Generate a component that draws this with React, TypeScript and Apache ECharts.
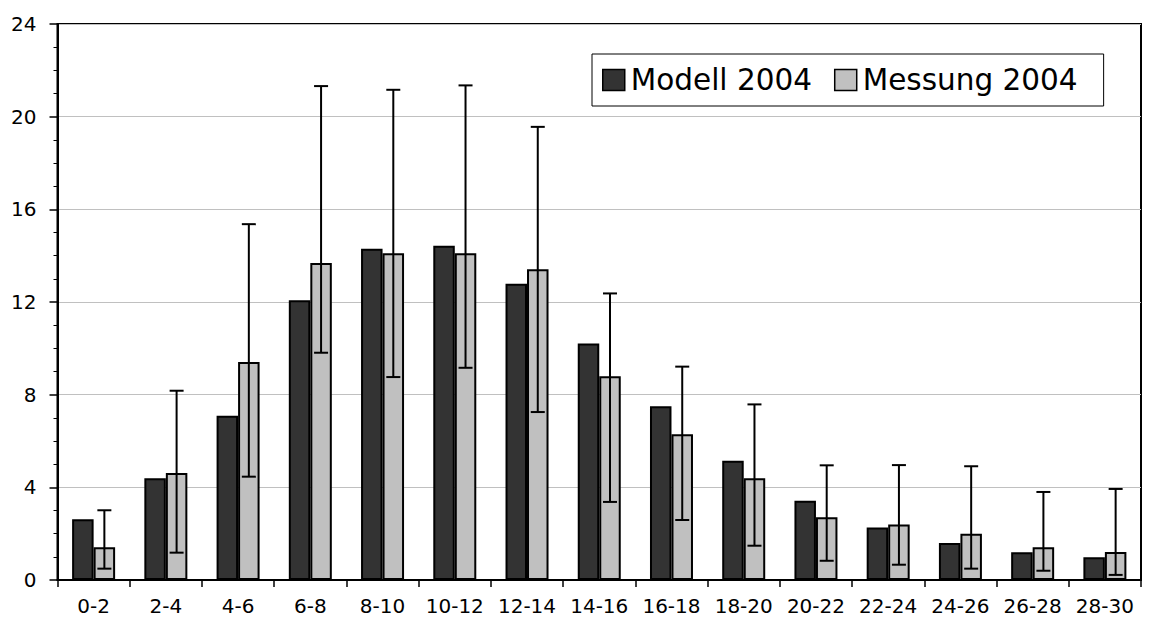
import React, { useEffect, useRef } from "react";
import * as echarts from "echarts";

const categories = ["0-2", "2-4", "4-6", "6-8", "8-10", "10-12", "12-14", "14-16", "16-18", "18-20", "20-22", "22-24", "24-26", "26-28", "28-30"];
const modell2004 = [2.62, 4.39, 7.09, 12.08, 14.3, 14.43, 12.79, 10.21, 7.5, 5.15, 3.42, 2.27, 1.6, 1.2, 0.98];
const messung2004 = [1.41, 4.62, 9.41, 13.68, 14.1, 14.1, 13.41, 8.8, 6.29, 4.39, 2.71, 2.4, 2.0, 1.41, 1.21];
const errorLow = [0.49, 1.18, 4.46, 9.81, 8.76, 9.16, 7.25, 3.37, 2.59, 1.48, 0.83, 0.66, 0.49, 0.4, 0.22];
const errorHigh = [3.01, 8.17, 15.36, 21.32, 21.16, 21.35, 19.56, 12.37, 9.21, 7.58, 4.95, 4.96, 4.91, 3.8, 3.93];
const yTicks = [0, 4, 8, 12, 16, 20, 24];

const FONT = "DejaVu Sans";
const BAR_WIDTH = 21.5;
const CAP_HALF = 7;

export default function App() {
  const ref = useRef<HTMLDivElement>(null);
  useEffect(() => {
    if (!ref.current) return;
    const chart = echarts.init(ref.current, undefined, { renderer: "svg" });
    const errData = categories.map((_, i) => [i, errorLow[i], errorHigh[i]]);
    chart.setOption({
      animation: false,
      backgroundColor: "#ffffff",
      textStyle: { fontFamily: FONT },
      grid: {
        left: 57.5,
        right: 8,
        top: 24,
        bottom: 44,
        show: true,
        borderColor: "#000",
        borderWidth: 2,
        backgroundColor: "transparent",
      },
      legend: {
        data: ["Modell 2004", "Messung 2004"],
        left: 592,
        top: 54,
        orient: "horizontal",
        backgroundColor: "#fff",
        borderColor: "#000",
        borderWidth: 1,
        padding: [11, 26, 11, 10],
        itemWidth: 22,
        itemHeight: 21,
        itemGap: 22,
        icon: "rect",
        selectedMode: false,
        textStyle: { fontFamily: FONT, fontSize: 29.5, color: "#000", padding: [0, 0, 0, 1] },
        itemStyle: { borderColor: "#000", borderWidth: 1.5 },
      },
      xAxis: {
        type: "category",
        data: categories,
        boundaryGap: true,
        axisLine: { show: true, lineStyle: { color: "#000", width: 2 } },
        axisTick: { show: true, length: 7, lineStyle: { color: "#000", width: 1.5 } },
        axisLabel: { fontFamily: FONT, fontSize: 20, color: "#000", margin: 16, interval: 0 },
        splitLine: { show: false },
      },
      yAxis: {
        type: "value",
        min: yTicks[0],
        max: yTicks[yTicks.length - 1],
        interval: 4,
        axisLine: { show: true, lineStyle: { color: "#000", width: 2 } },
        axisTick: { show: true, length: 8, lineStyle: { color: "#000", width: 1.5 } },
        minorTick: { show: true, splitNumber: 4, length: 4, lineStyle: { color: "#000", width: 1 } },
        axisLabel: { fontFamily: FONT, fontSize: 20, color: "#000", margin: 21 },
        splitLine: { show: true, lineStyle: { color: "#c0c0c0", width: 1 } },
      },
      series: [
        {
          name: "Modell 2004",
          type: "bar",
          data: modell2004,
          barWidth: BAR_WIDTH,
          barGap: "0%",
          itemStyle: { color: "#333333", borderColor: "#000", borderWidth: 2 },
        },
        {
          name: "Messung 2004",
          type: "bar",
          data: messung2004,
          barWidth: BAR_WIDTH,
          barGap: "0%",
          itemStyle: { color: "#c0c0c0", borderColor: "#000", borderWidth: 2 },
        },
        {
          name: "Fehler",
          type: "custom",
          data: errData,
          encode: { x: 0, y: [1, 2] },
          z: 10,
          renderItem: (params: any, api: any) => {
            const idx = api.value(0);
            const lo = api.coord([idx, api.value(1)]);
            const hi = api.coord([idx, api.value(2)]);
            const x = lo[0] + BAR_WIDTH / 2;
            const style = { stroke: "#000", lineWidth: 2 };
            return {
              type: "group",
              children: [
                { type: "line", shape: { x1: x, y1: lo[1], x2: x, y2: hi[1] }, style },
                { type: "line", shape: { x1: x - CAP_HALF, y1: hi[1], x2: x + CAP_HALF, y2: hi[1] }, style },
                { type: "line", shape: { x1: x - CAP_HALF, y1: lo[1], x2: x + CAP_HALF, y2: lo[1] }, style },
              ],
            };
          },
        },
      ],
    });
    return () => chart.dispose();
  }, []);
  return (
    <div
      ref={ref}
      style={{ position: "fixed", left: 0, top: 0, width: 1149, height: 624, background: "#fff" }}
    />
  );
}
